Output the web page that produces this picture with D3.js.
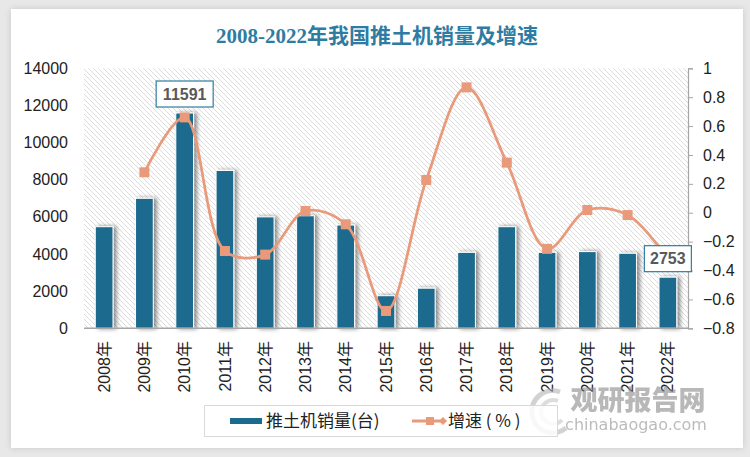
<!DOCTYPE html>
<html>
<head>
<meta charset="utf-8">
<script src="https://cdn.jsdelivr.net/npm/d3@7"></script>
<style>
html,body{margin:0;padding:0;background:#e8e8e8;}
svg{display:block;}
</style>
</head>
<body>
<svg id="chart" width="750" height="457"></svg>
<script>
const categories = ["2008年","2009年","2010年","2011年","2012年","2013年","2014年","2015年","2016年","2017年","2018年","2019年","2020年","2021年","2022年"];
const sales = [5470, 7000, 11591, 8500, 6000, 6060, 5560, 1755, 2160, 4090, 5470, 4090, 4130, 4040, 2753];
const growth = [null, 0.28, 0.66, -0.265, -0.29, 0.012, -0.08, -0.68, 0.227, 0.868, 0.347, -0.25, 0.019, -0.016, -0.318];
const leftTicks = [0, 2000, 4000, 6000, 8000, 10000, 12000, 14000];
const rightTicks = [-0.8, -0.6, -0.4, -0.2, 0, 0.2, 0.4, 0.6, 0.8, 1];
const labeledIdx = [2, 14];
const title = "2008-2022年我国推土机销量及增速";
const legendNames = ["推土机销量(台)", "增速 ( % )"];

const barColor = "#1c6a8e", lineColor = "#e99a7b", titleColor = "#2f7ca2";
const svg = d3.select("#chart");
const M = {left: 84, right: 688, top: 68.3, bottom: 328.3};

const defs = svg.append("defs");
const pat = defs.append("pattern").attr("id","hatch").attr("patternUnits","userSpaceOnUse")
  .attr("width",5).attr("height",5);
pat.append("rect").attr("width",5).attr("height",5).attr("fill","#ffffff");
pat.append("path").attr("d","M-1,-1 L6,6 M-1,4 L1,6 M4,-1 L6,1").attr("stroke","#dcdcdc").attr("stroke-width",1);
const sh = defs.append("filter").attr("id","shadow").attr("x","-50%").attr("y","-10%").attr("width","200%").attr("height","120%");
sh.append("feDropShadow").attr("dx",3).attr("dy",0).attr("stdDeviation",2).attr("flood-color","#000").attr("flood-opacity",0.45);
const cshadow = defs.append("filter").attr("id","cshadow").attr("x","-5%").attr("y","-5%").attr("width","110%").attr("height","110%");
cshadow.append("feDropShadow").attr("dx",0).attr("dy",0).attr("stdDeviation",3).attr("flood-color","#000").attr("flood-opacity",0.15);

// card
svg.append("rect").attr("x",11).attr("y",9).attr("width",732).attr("height",439).attr("fill","#fff").attr("filter","url(#cshadow)");

// title
svg.append("text").attr("x",377).attr("y",43).attr("text-anchor","middle")
  .attr("font-family","'Liberation Serif','Noto Sans CJK SC',serif").attr("font-size",21).attr("font-weight","bold")
  .attr("fill",titleColor).text(title);

const x = d3.scaleBand().domain(categories).range([M.left, M.right]).paddingInner(0.56).paddingOuter(0.28);
const yL = d3.scaleLinear().domain([0,14000]).range([M.bottom, M.top]);
const yR = d3.scaleLinear().domain([-0.8,1]).range([M.bottom, M.top]);

// plot area hatch
svg.append("rect").attr("x",M.left).attr("y",M.top).attr("width",M.right-M.left).attr("height",M.bottom-M.top).attr("fill","url(#hatch)");

// bars
svg.append("g").selectAll("rect").data(sales).join("rect")
  .attr("x",(d,i)=>x(categories[i])).attr("width",x.bandwidth())
  .attr("y",d=>yL(d)).attr("height",d=>yL(0)-yL(d))
  .attr("fill",barColor).attr("stroke","#ffffff").attr("stroke-width",1)
  .attr("filter","url(#shadow)");

// bottom axis line
svg.append("line").attr("x1",M.left).attr("x2",M.right).attr("y1",M.bottom).attr("y2",M.bottom).attr("stroke","#a6a6a6").attr("stroke-width",1.5);

// left axis
const gL = svg.append("g").attr("transform",`translate(${M.left},0)`)
  .call(d3.axisLeft(yL).tickValues(leftTicks).tickSize(0).tickPadding(16).tickFormat(d3.format("d")));
gL.select(".domain").remove();
gL.selectAll("text").attr("font-family","'Liberation Sans',Arial,sans-serif").attr("font-size",16).attr("fill","#222");

// right axis
const gR = svg.append("g").attr("transform",`translate(${M.right},0)`)
  .call(d3.axisRight(yR).tickValues(rightTicks).tickSize(5).tickPadding(10).tickFormat(d=>d3.format("")(+d.toFixed(1))));
gR.select(".domain").attr("stroke","#a6a6a6").attr("stroke-width",1.2);
gR.selectAll("line").attr("stroke","#a6a6a6");
gR.selectAll("text").attr("font-family","'Liberation Sans',Arial,sans-serif").attr("font-size",16).attr("fill","#222");

// x labels
svg.append("g").selectAll("text").data(categories).join("text")
  .attr("transform",d=>`translate(${x(d)+x.bandwidth()/2},341) rotate(-90)`)
  .attr("text-anchor","end").attr("dy","0.35em")
  .attr("font-family","'Liberation Sans','Noto Sans CJK SC',sans-serif").attr("font-size",16).attr("fill","#222")
  .text(d=>d);

// line
const cx = i => x(categories[i]) + x.bandwidth()/2;
const line = d3.line().defined(d=>d!==null).x((d,i)=>cx(i)).y(d=>yR(d)).curve(d3.curveCatmullRom.alpha(0.5));
svg.append("path").datum(growth).attr("d",line).attr("fill","none").attr("stroke",lineColor).attr("stroke-width",2.75);
svg.append("g").selectAll("rect").data(growth.map((v,i)=>({v,i})).filter(d=>d.v!==null)).join("rect")
  .attr("x",d=>cx(d.i)-5).attr("y",d=>yR(d.v)-5).attr("width",10).attr("height",10).attr("fill",lineColor);

// watermark (behind legend, over chart)
const wm = svg.append("g").attr("opacity",0.6);
wm.append("path").attr("d","M560,392 A21,21 0 1 0 566,428").attr("fill","none").attr("stroke","#b5b5b5").attr("stroke-width",5);
wm.append("path").attr("d","M558,401 A12,12 0 1 0 562,420").attr("fill","none").attr("stroke","#c8c8c8").attr("stroke-width",4);
wm.append("text").attr("x",638).attr("y",410).attr("text-anchor","middle")
  .attr("font-family","'Noto Sans CJK SC',sans-serif").attr("font-size",27).attr("font-weight","900").attr("fill","#8a8a8a").text("观研报告网");
wm.append("text").attr("x",636).attr("y",430).attr("text-anchor","middle")
  .attr("font-family","'DejaVu Sans',sans-serif").attr("font-size",16).attr("fill","#8f8f8f").text("chinabaogao.com");

// value labels
const lab = svg.append("g");
labeledIdx.forEach(i=>{
  const isLast = i === categories.length-1;
  const bx = cx(i);
  const by = isLast ? yR(growth[i]) : 94;
  const w = i===2 ? 57 : 47, h = 26;
  lab.append("rect").attr("x",bx-w/2).attr("y",by-h/2).attr("width",w).attr("height",h)
    .attr("fill","#fff").attr("stroke","#2f7ca2").attr("stroke-width",1.2);
  lab.append("text").attr("x",bx).attr("y",by).attr("dy","0.36em").attr("text-anchor","middle")
    .attr("font-family","'Liberation Sans',Arial,sans-serif").attr("font-size",16).attr("font-weight","bold")
    .attr("fill","#595959").text(sales[i]);
});

// legend
const lg = svg.append("g");
lg.append("rect").attr("x",204.5).attr("y",405.5).attr("width",353).attr("height",31).attr("fill","#fff").attr("fill-opacity",0.85).attr("stroke","#d9d9d9");
lg.append("rect").attr("x",230).attr("y",418).attr("width",32).attr("height",6).attr("fill",barColor);
lg.append("text").attr("x",266).attr("y",421).attr("dy","0.36em")
  .attr("font-family","'Noto Sans CJK SC',sans-serif").attr("font-size",17).attr("fill","#222").text(legendNames[0]);
lg.append("line").attr("x1",412).attr("x2",445).attr("y1",421).attr("y2",421).attr("stroke",lineColor).attr("stroke-width",3);
lg.append("rect").attr("x",426).attr("y",417).attr("width",8).attr("height",8).attr("fill",lineColor);
lg.append("path").attr("d","M443,417 L447,421 L443,425 L439,421 Z").attr("fill",lineColor);
lg.append("text").attr("x",448).attr("y",421).attr("dy","0.36em")
  .attr("font-family","'Noto Sans CJK SC',sans-serif").attr("font-size",17).attr("fill","#222").text(legendNames[1]);
</script>
</body>
</html>
